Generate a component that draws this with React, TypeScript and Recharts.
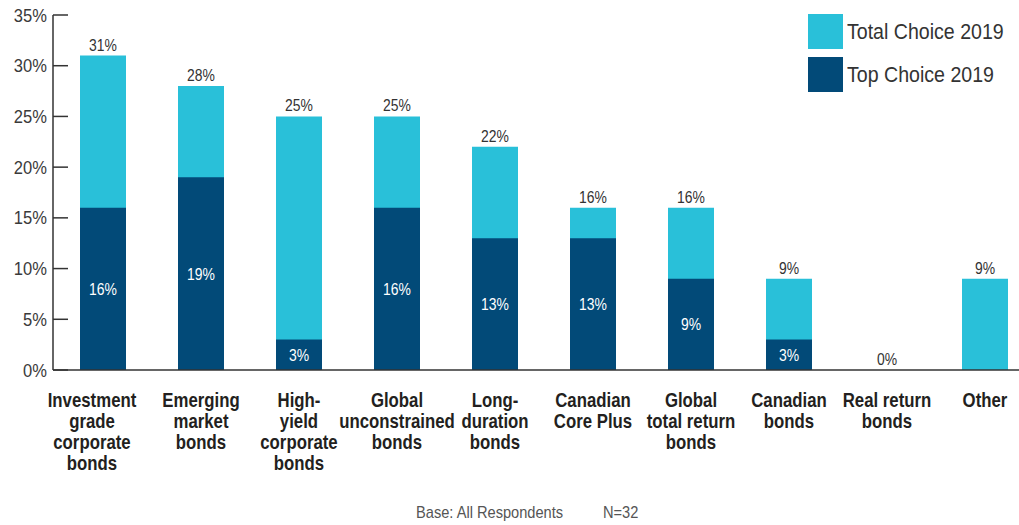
import { Bar, BarChart, LabelList, XAxis, YAxis } from "recharts";

const categories = [
  "Investment\ngrade\ncorporate\nbonds",
  "Emerging\nmarket\nbonds",
  "High-\nyield\ncorporate\nbonds",
  "Global\nunconstrained\nbonds",
  "Long-\nduration\nbonds",
  "Canadian\nCore Plus",
  "Global\ntotal return\nbonds",
  "Canadian\nbonds",
  "Real return\nbonds",
  "Other",
];
const totalChoice = [31, 28, 25, 25, 22, 16, 16, 9, 0, 9];
const topChoice = [16, 19, 3, 16, 13, 13, 9, 3, 0, 0];
const yTicks = [0, 5, 10, 15, 20, 25, 30, 35];

const data = categories.map((name, i) => ({
  name,
  total: totalChoice[i],
  top: topChoice[i],
}));

// Arial metrics, squeezed horizontally to look like a condensed face
const FONT = '"Liberation Sans", Arial, sans-serif';
const LIGHT = "#29c0d9";
const DARK = "#024a78";
const AXIS = "#333333";

function NarrowText(props: any) {
  const { x, y, sx = 0.82, children, ...rest } = props;
  return (
    <g transform={`translate(${x},${y}) scale(${sx},1)`}>
      <text x={0} y={0} fontFamily={FONT} {...rest}>
        {children}
      </text>
    </g>
  );
}

function YTick(props: any) {
  const { x, y, payload } = props;
  return (
    <g>
      <line x1={x} x2={x + 15} y1={y} y2={y} stroke={AXIS} strokeWidth={1.5} />
      <NarrowText x={x - 6} y={y + 6.5} sx={0.92} textAnchor="end" fontSize={18} fill="#3a3a3a">
        {payload.value}%
      </NarrowText>
    </g>
  );
}

function XTick(props: any) {
  const { x, y, payload, index } = props;
  const lines = String(payload.value).split("\n");
  // the first label sits a little left of its bar in the original
  const cx = index === 0 ? x - 11 : x;
  return (
    <g transform={`translate(${cx},${y + 35}) scale(0.84,1)`}>
      <text x={0} y={0} textAnchor="middle" fontFamily={FONT} fontSize={20} fontWeight="bold" fill="#231f20">
        {lines.map((line, i) => (
          <tspan key={i} x={0} dy={i === 0 ? 0 : 21}>
            {line}
          </tspan>
        ))}
      </text>
    </g>
  );
}

function TopLabel(props: any) {
  const { x, y, width, value } = props;
  return (
    <NarrowText x={x + width / 2} y={y - 5} textAnchor="middle" fontSize={17} fill="#333">
      {value}%
    </NarrowText>
  );
}

function InnerLabel(props: any) {
  const { x, y, width, height, value } = props;
  if (!value) return null;
  return (
    <NarrowText x={x + width / 2} y={y + height / 2 + 6} textAnchor="middle" fontSize={17} fill="#fff">
      {value}%
    </NarrowText>
  );
}

const footStyle: any = {
  position: "absolute",
  top: 503,
  fontFamily: FONT,
  fontSize: 17,
  color: "#555",
  whiteSpace: "nowrap",
  transform: "scaleX(0.86)",
  transformOrigin: "left top",
};

const legendText: any = {
  display: "inline-block",
  transform: "scaleX(0.89)",
  transformOrigin: "left center",
  whiteSpace: "nowrap",
};

export default function App() {
  return (
    <div
      style={{
        position: "absolute",
        left: 0,
        top: 0,
        width: 1019,
        height: 525,
        overflow: "hidden",
        background: "#fff",
      }}
    >
      <BarChart
        width={1034}
        height={525}
        data={data}
        barSize={46}
        barGap={-46}
        margin={{ top: 15, right: 0, left: 0, bottom: 55 }}
      >
        <XAxis
          dataKey="name"
          interval={0}
          height={100}
          padding={{ left: 1, right: 0 }}
          axisLine={{ stroke: AXIS, strokeWidth: 1.5 }}
          tickLine={false}
          tickSize={0}
          tick={<XTick />}
        />
        <YAxis
          width={53}
          domain={[0, 35]}
          ticks={yTicks}
          interval={0}
          axisLine={{ stroke: AXIS, strokeWidth: 1.5 }}
          tickLine={false}
          tickSize={0}
          tickMargin={0}
          tick={<YTick />}
        />
        <Bar
          dataKey="total"
          fill={LIGHT}
          minPointSize={(v: number) => (v === 0 ? 0.01 : 0)}
          isAnimationActive={false}
        >
          <LabelList dataKey="total" content={<TopLabel />} />
        </Bar>
        <Bar dataKey="top" fill={DARK} isAnimationActive={false}>
          <LabelList dataKey="top" content={<InnerLabel />} />
        </Bar>
      </BarChart>

      {/* legend */}
      <div style={{ position: "absolute", left: 808, top: 14, fontFamily: FONT, fontSize: 22, color: "#333" }}>
        <div style={{ display: "flex", alignItems: "center", height: 35, marginBottom: 8 }}>
          <div style={{ width: 35, height: 35, background: LIGHT, marginRight: 4 }} />
          <span style={legendText}>Total Choice 2019</span>
        </div>
        <div style={{ display: "flex", alignItems: "center", height: 35 }}>
          <div style={{ width: 35, height: 35, background: DARK, marginRight: 4 }} />
          <span style={legendText}>Top Choice 2019</span>
        </div>
      </div>

      {/* footnote */}
      <div style={{ ...footStyle, left: 416 }}>Base: All Respondents</div>
      <div style={{ ...footStyle, left: 603 }}>N=32</div>
    </div>
  );
}
